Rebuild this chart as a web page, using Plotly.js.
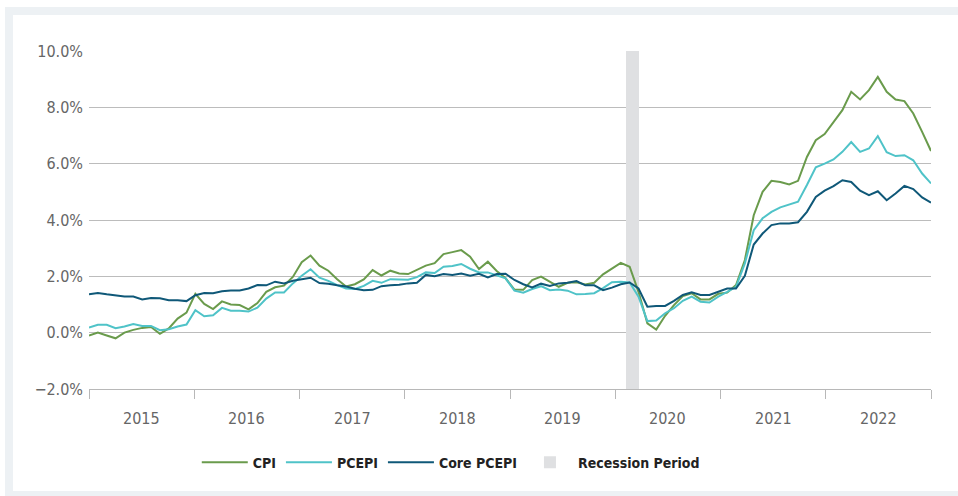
<!DOCTYPE html>
<html>
<head>
<meta charset="utf-8">
<script src="https://cdn.plot.ly/plotly-3.0.1.min.js"></script>
<style>
  html, body { margin: 0; padding: 0; background: #ffffff; width: 958px; height: 496px; overflow: hidden; }
  #frame { position: absolute; left: 5px; top: 7px; width: 953px; height: 489px; background: #edf1f4; }
  #chart { position: absolute; left: 13px; top: 15px; width: 945px; height: 476px; background: #ffffff; }
</style>
</head>
<body>
<div id="frame"></div>
<div id="chart"></div>
<script>
// Year-over-year change, monthly, Jan 2015 - Dec 2022
const years = ['2015', '2016', '2017', '2018', '2019', '2020', '2021', '2022'];

const cpi = [
  -0.1, 0.0, -0.1, -0.2, 0.0, 0.1, 0.17, 0.2, -0.04, 0.15, 0.5, 0.71,
  1.38, 1.02, 0.84, 1.11, 1.0, 0.98, 0.83, 1.05, 1.45, 1.61, 1.67, 1.98,
  2.5, 2.74, 2.38, 2.2, 1.9, 1.64, 1.72, 1.89, 2.22, 2.03, 2.2, 2.1,
  2.08, 2.22, 2.38, 2.47, 2.79, 2.86, 2.93, 2.7, 2.26, 2.52, 2.19, 1.93,
  1.53, 1.52, 1.87, 1.99, 1.81, 1.63, 1.77, 1.79, 1.71, 1.77, 2.07, 2.29,
  2.48, 2.34, 1.45, 0.33, 0.11, 0.6, 0.98, 1.3, 1.4, 1.18, 1.18, 1.38,
  1.42, 1.69, 2.58, 4.17, 5.0, 5.39, 5.35, 5.26, 5.39, 6.24, 6.83, 7.05,
  7.48, 7.9, 8.55, 8.28, 8.61, 9.08, 8.55, 8.28, 8.22, 7.78, 7.13, 6.45
];

const pcepi = [
  0.18, 0.28, 0.28, 0.16, 0.22, 0.31, 0.24, 0.24, 0.09, 0.12, 0.22, 0.29,
  0.8, 0.58, 0.62, 0.88, 0.78, 0.78, 0.75, 0.89, 1.21, 1.43, 1.43, 1.75,
  2.02, 2.25, 1.95, 1.84, 1.69, 1.57, 1.55, 1.66, 1.84, 1.77, 1.9, 1.88,
  1.88, 1.97, 2.14, 2.12, 2.34, 2.37, 2.44, 2.27, 2.14, 2.14, 2.03, 1.93,
  1.49, 1.42, 1.55, 1.65, 1.51, 1.53, 1.49, 1.36, 1.37, 1.4, 1.58, 1.79,
  1.81, 1.78, 1.28, 0.41, 0.43, 0.69, 0.87, 1.13, 1.28, 1.1, 1.07, 1.28,
  1.45, 1.63, 2.46, 3.64, 4.06, 4.29, 4.45, 4.55, 4.65, 5.24, 5.87, 6.0,
  6.15, 6.42, 6.77, 6.42, 6.54, 6.98, 6.41, 6.27, 6.3, 6.12, 5.65, 5.3
];

const corePcepi = [
  1.36, 1.41, 1.36, 1.33, 1.28, 1.28, 1.18, 1.23, 1.22, 1.15, 1.15, 1.12,
  1.33, 1.41, 1.40, 1.47, 1.50, 1.50, 1.57, 1.69, 1.68, 1.81, 1.75, 1.84,
  1.9, 1.95, 1.76, 1.74, 1.68, 1.64, 1.56, 1.51, 1.52, 1.65, 1.68, 1.7,
  1.75, 1.77, 2.05, 2.0, 2.08, 2.05, 2.1, 2.02, 2.09, 1.96, 2.08, 2.09,
  1.87, 1.72, 1.61, 1.74, 1.66, 1.75, 1.77, 1.83, 1.68, 1.68, 1.51, 1.6,
  1.72, 1.78, 1.57, 0.92, 0.95, 0.95, 1.13, 1.34, 1.43, 1.34, 1.34, 1.45,
  1.57, 1.57, 2.02, 3.13, 3.52, 3.82, 3.88, 3.88, 3.92, 4.29, 4.82, 5.04,
  5.2, 5.41, 5.35, 5.04, 4.88, 5.02, 4.7, 4.94, 5.21, 5.1, 4.8, 4.62
];

// Recession period in month-index units (0 = Jan 2015)
const recessionStart = 60.6;
const recessionEnd = 62.1;

const yMin = -2, yMax = 10;

const monthIdx = cpi.map((_, i) => i);
const lastIdx = monthIdx.length - 1;
const yearSpan = lastIdx / years.length;

const tickVals = [];
for (let k = 0; k <= years.length; k++) tickVals.push(k * yearSpan);

const FONT = '"DejaVu Sans Condensed", "Liberation Sans Narrow", sans-serif';

const traces = [
  { x: monthIdx, y: cpi, name: 'CPI', type: 'scatter', mode: 'lines',
    line: { color: '#6a9b4c', width: 2 } },
  { x: monthIdx, y: pcepi, name: 'PCEPI', type: 'scatter', mode: 'lines',
    line: { color: '#4fc3c8', width: 2 } },
  { x: monthIdx, y: corePcepi, name: 'Core PCEPI', type: 'scatter', mode: 'lines',
    line: { color: '#0f5878', width: 2 } },
  { x: [(recessionStart + recessionEnd) / 2], y: [yMax - yMin], base: [yMin],
    width: [recessionEnd - recessionStart], name: 'Recession Period', type: 'bar',
    marker: { color: '#dfe0e2', line: { width: 0 } } }
];

const annotations = years.map((yr, k) => ({
  x: (k + 0.5) * yearSpan, xref: 'x', y: 0, yref: 'paper',
  yshift: -29, yanchor: 'middle', xanchor: 'center', showarrow: false,
  text: yr, font: { family: FONT, size: 16, color: '#666666' }
}));

const layout = {
  width: 945, height: 476,
  margin: { l: 76, r: 27, t: 36, b: 102 },
  paper_bgcolor: '#ffffff', plot_bgcolor: '#ffffff',
  showlegend: true,
  legend: {
    orientation: 'h', x: 0.128, xanchor: 'left', y: -0.218, yanchor: 'middle',
    font: { family: FONT, size: 14, color: '#222222', weight: 'bold' },
    itemwidth: 46, traceorder: 'normal'
  },
  xaxis: {
    range: [0, lastIdx], tickmode: 'array', tickvals: tickVals,
    ticktext: tickVals.map(() => ''), ticks: 'outside', ticklen: 9,
    tickcolor: '#b8b8b8', tickwidth: 1, showgrid: false, zeroline: false,
    showline: true, linecolor: '#b8b8b8', linewidth: 1, fixedrange: true
  },
  yaxis: {
    range: [yMin, yMax], dtick: 2, tick0: 0, tickformat: '.1f', ticksuffix: '%',
    showgrid: true, gridcolor: '#bcbcbc', gridwidth: 1, zeroline: false,
    ticks: '', ticklabelstandoff: 5, showline: false,
    tickfont: { family: FONT, size: 16, color: '#666666' }, fixedrange: true
  },
  annotations: annotations,
  bargap: 0
};

Plotly.newPlot('chart', traces, layout, { displayModeBar: false, staticPlot: true });
</script>
</body>
</html>
